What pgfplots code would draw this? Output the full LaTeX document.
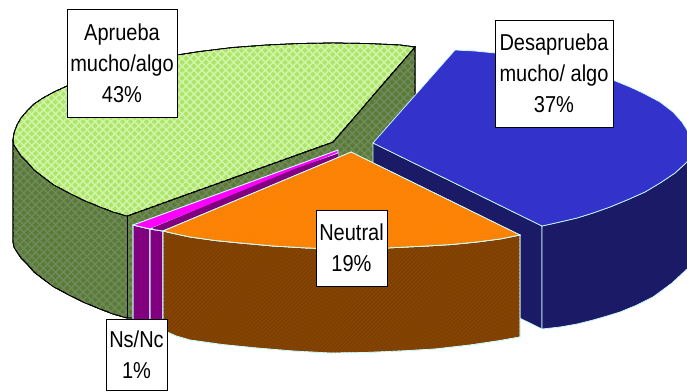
\documentclass[border=0pt]{standalone}
\usepackage{pgfplots}
\pgfplotsset{compat=1.18}
\usepackage{fontspec}
\setmainfont[FakeStretch=0.87]{Liberation Sans}
\usetikzlibrary{patterns.meta}
\definecolor{gtop}{HTML}{AEE468}
\definecolor{gtopl}{HTML}{CFF5A8}
\definecolor{gside}{HTML}{5A7A36}
\definecolor{gsidel}{HTML}{6E8A5A}
\definecolor{orange1}{HTML}{FF8000}
\definecolor{orange2}{HTML}{F58A10}
\definecolor{brown1}{HTML}{7F3F00}
\definecolor{brown2}{HTML}{884808}
\definecolor{blue1}{HTML}{3333CC}
\definecolor{blue2}{HTML}{1A1A66}
\definecolor{purp}{HTML}{800080}
\definecolor{purpd}{HTML}{B00060}
\definecolor{magen}{HTML}{FF00FF}
\definecolor{edgec}{HTML}{CCFFFF}
\tikzset{
  hatchA/.style={postaction={pattern={Lines[angle=45,distance=5.6pt,line width=1.6pt]},pattern color=#1},
                 postaction={pattern={Lines[angle=-45,distance=5.6pt,line width=1.6pt]},pattern color=#1}},
  hatchB/.style={postaction={pattern={Lines[angle=45,distance=2.8pt,line width=0.7pt]},pattern color=#1}},
  dotted fill/.style={postaction={pattern={Dots[radius=0.7pt,distance=13pt]},pattern color=#1}},
  lab/.style={draw=black,line width=0.8pt,fill=white,inner sep=0pt,align=center,
              font=\fontsize{23}{31}\selectfont,text=black},
}
\begin{document}
\begin{tikzpicture}
\path[use as bounding box] (0,0) rectangle (687pt,391pt);
\begin{axis}[
  at={(0,0)},anchor=south west,
  scale only axis,width=687pt,height=391pt,
  xmin=0,xmax=687,ymin=0,ymax=391,y dir=reverse,
  axis lines=none,clip=true,
]
% Aprueba: side
\addplot[draw=black,line width=0.8pt,fill=gside,hatchA=gsidel] coordinates {
 (13,140)(13,242)(14,247)(17,252)(21,258)(27,264)(34,272)(43,279)(54,287)(67,294)(83,302)(100,309)(113,314)(127,318)(240,318)(415,149)(415,47)(333,142)(127,216)
} -- cycle;
% Aprueba: top
\addplot[draw=black,line width=0.8pt,fill=gtop,hatchA=gtopl] coordinates {
 (127,216)(113,212)(100,207)(83,200)(67,192)(54,185)(43,177)(34,170)(27,162)(21,156)(17,150)(14,145)(13,140)(14,133)(17,125)(21,118)(27,111)(34,104)(43,98)(54,92)(67,86)(83,79)(100,73)(120,67)(140,62)(160,58)(177,55)(200,51.5)(233,47.5)(267,45)(300,43.5)(333,43)(367,43.5)(400,45)(415,47)(333,142)
} -- cycle;
\addplot[draw=black,line width=0.8pt] coordinates {(127,216)(127,318)};
% Ns/Nc
\addplot[draw=edgec,line width=0.9pt,fill=purp,dotted fill=purpd] coordinates {(133,225)(150,229)(150,330)(133,330)} -- cycle;
\addplot[draw=edgec,line width=0.9pt,fill=purp,dotted fill=purpd] coordinates {(150,229)(163,231)(163,334)(150,334)} -- cycle;
\addplot[draw=edgec,line width=0.9pt,fill=purp] coordinates {(150,229)(338,153)(338,162)(163,231)} -- cycle;
\addplot[draw=edgec,line width=0.9pt,fill=magen] coordinates {(133,225)(338,150)(338,153)(150,229)} -- cycle;
\addplot[draw=none,fill=purp] coordinates {(297,168)(338,153.5)(338,158)(160,228)(152,228)} -- cycle;
% Desaprueba
\addplot[draw=edgec,line width=0.7pt,fill=blue2] coordinates {(373,143)(542,226)(542,329)(373,246)} -- cycle;
\addplot[draw=edgec,line width=0.7pt,fill=blue2] coordinates {
 (542,226)(560,222)(577,218)(593,213)(610,207)(627,200)(645,192)(660,183)(675,173)(687,162)(700,145)(700,255)(687,269)(672,283)(653,297)(637,305)(620,312)(607,316)(593,320)(577,324)(560,327)(542,329)
} -- cycle;
\addplot[draw=edgec,line width=0.7pt,fill=blue1] coordinates {
 (373,143)(455,50)(475,51)(495,53)(530,58)(560,65)(590,73)(613,80)(630,87)(643,93)(660,102)(673,112)(682,122)(687,130)(692,140)(692,150)(687,162)(675,173)(660,183)(645,192)(627,200)(610,207)(593,213)(577,218)(560,222)(542,226)
} -- cycle;
% Neutral
\addplot[draw=edgec,line width=0.7pt,fill=brown1,hatchB=brown2] coordinates {
 (163,231)(176,234)(190,237)(215,240.5)(240,243)(273,246)(307,248)(347,249)(387,248)(427,246)(452,244.5)(477,242)(500,239)(520,235)(520,337)(497,341)(470,345)(435,349)(400,351)(365,352.5)(330,353)(293,351)(257,348)(222,344.5)(190,340)(176,336)(163,330)
} -- cycle;
\addplot[draw=edgec,line width=0.7pt,fill=orange1,hatchB=orange2] coordinates {
 (351,152)(520,235)(500,239)(477,242)(452,244.5)(427,246)(387,248)(347,249)(307,248)(273,246)(240,243)(215,240.5)(190,237)(176,234)(163,231)
} -- cycle;
\node[lab,minimum width=110pt,minimum height=108pt] at (axis cs:122,63) {Aprueba\\mucho/algo\\43\%};
\node[lab,minimum width=118pt,minimum height=107pt] at (axis cs:554,73.5) {Desaprueba\\mucho/ algo\\37\%};
\node[lab,minimum width=71pt,minimum height=76pt] at (axis cs:351.5,248) {Neutral\\19\%};
\node[lab,minimum width=61pt,minimum height=71pt] at (axis cs:136.5,355) {Ns/Nc\\1\%};
\end{axis}
\end{tikzpicture}
\end{document}
